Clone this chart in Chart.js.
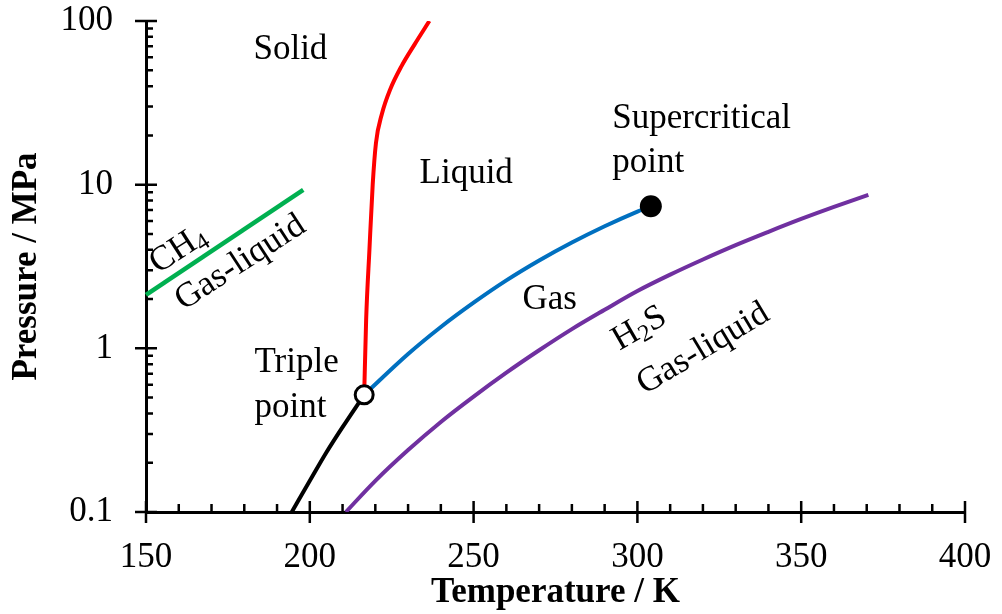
<!DOCTYPE html>
<html>
<head>
<meta charset="utf-8">
<script src="https://cdn.jsdelivr.net/npm/chart.js@4.4.0/dist/chart.umd.min.js"></script>
<style>
  html, body { margin: 0; padding: 0; background: #fff; }
  #wrap { width: 1002px; height: 614px; position: relative; }
</style>
</head>
<body>
<div id="wrap"><canvas id="grafica"></canvas></div>
<script>
// CO2 sólido-gas (sublimación)
const sublimT = [194.5, 200, 205, 210, 216.6];
const sublimP = [0.1, 0.155, 0.23, 0.33, 0.52];

// CO2 sólido-líquido (fusión)
const fusionT = [216.6, 217.2, 218.2, 219.2, 220.2, 222.0, 224.5, 228.0, 232.0, 236.5];
const fusionP = [0.52, 1.5, 4.0, 10, 18, 27, 38, 53, 72, 100];

// CO2 líquido-gas (vaporización)
const vaporT = [216.6, 230, 240, 250, 260, 270, 280, 290, 300, 304.1];
const vaporP = [0.52, 0.923, 1.35, 1.9, 2.6, 3.44, 4.43, 5.57, 6.85, 7.38];

// H2S gas-líquido
const h2sT = [211, 220, 230, 240, 250, 260, 270, 280, 290, 300, 310, 320, 330, 340, 350, 360, 370.5];
const h2sP = [0.1, 0.155, 0.239, 0.355, 0.507, 0.71, 0.973, 1.31, 1.72, 2.24, 2.82, 3.49, 4.27, 5.15, 6.17, 7.31, 8.65];

// CH4 gas-líquido
const ch4T = [150, 198];
const ch4P = [2.12, 9.3];

const triplePoint = [216.6, 0.52];
const criticalPoint = [304.1, 7.38];

const xTicks = [150, 200, 250, 300, 350, 400];
const yTicks = [0.1, 1, 10, 100];
const yTickLabels = ['0.1', '1', '10', '100'];

const FONT = '"Liberation Serif", "Times New Roman", serif';

// textos dentro de la gráfica (posición en unidades de datos)
const etiquetas = [
  { parts: [['Solid']], T: 182.8, p: 58.2 },
  { parts: [['Liquid']], T: 233.5, p: 10.3 },
  { parts: [['Gas']], T: 264.9, p: 1.75 },
  { parts: [['Supercritical']], T: 292.3, p: 22.3 },
  { parts: [['point']], T: 292.3, p: 12.0 },
  { parts: [['Triple']], T: 183.1, p: 0.717 },
  { parts: [['point']], T: 183.1, p: 0.381 },
  { parts: [['CH'], ['4', true]], T: 159.9, p: 4.0, rot: -33 },
  { parts: [['Gas-liquid']], T: 178.8, p: 3.33, rot: -33 },
  { parts: [['H'], ['2', true], ['S']], T: 300.6, p: 1.32, rot: -30 },
  { parts: [['Gas-liquid']], T: 320.1, p: 0.993, rot: -31 }
];

function puntos(xs, ys) {
  return xs.map((x, i) => ({ x: x, y: ys[i] }));
}

const axisTicks = {
  id: 'axisTicks',
  afterDatasetsDraw(chart) {
    const { ctx, scales: { x, y }, chartArea: a } = chart;
    ctx.save();
    ctx.strokeStyle = '#000';
    ctx.lineWidth = 2.5;
    ctx.beginPath();
    xTicks.forEach(v => {
      const px = x.getPixelForValue(v);
      ctx.moveTo(px, a.bottom - 11);
      ctx.lineTo(px, a.bottom + 11);
    });
    for (let v = 160; v < 400; v += 10) {
      if (v % 50 === 0) continue;
      const px = x.getPixelForValue(v);
      ctx.moveTo(px, a.bottom);
      ctx.lineTo(px, a.bottom - 8);
    }
    yTicks.forEach(v => {
      const py = y.getPixelForValue(v);
      ctx.moveTo(a.left - 11, py);
      ctx.lineTo(a.left + 11, py);
    });
    [0.1, 1, 10].forEach(d => {
      for (let k = 2; k <= 9; k++) {
        const py = y.getPixelForValue(d * k);
        ctx.moveTo(a.left, py);
        ctx.lineTo(a.left + 7, py);
      }
    });
    ctx.stroke();
    ctx.restore();
  }
};

const textos = {
  id: 'textos',
  afterDraw(chart) {
    const { ctx, scales: { x, y } } = chart;
    const big = '35px ' + FONT, small = '24px ' + FONT;
    ctx.save();
    ctx.fillStyle = '#000';
    etiquetas.forEach(e => {
      const px = x.getPixelForValue(e.T);
      const py = y.getPixelForValue(e.p);
      let w = 0;
      const ws = e.parts.map(([t, sub]) => {
        ctx.font = sub ? small : big;
        const m = ctx.measureText(t).width;
        w += m;
        return m;
      });
      ctx.save();
      ctx.translate(px, py);
      let cx = 0;
      if (e.rot) {
        ctx.rotate(e.rot * Math.PI / 180);
        ctx.textBaseline = 'middle';
        cx = -w / 2;
      } else {
        ctx.textBaseline = 'alphabetic';
      }
      ctx.textAlign = 'left';
      e.parts.forEach(([t, sub], i) => {
        ctx.font = sub ? small : big;
        ctx.fillText(t, cx, sub ? 8 : 0);
        cx += ws[i];
      });
      ctx.restore();
    });
    ctx.restore();
  }
};

const curva = (label, xs, ys, color, width) => ({
  label: label,
  data: puntos(xs, ys),
  showLine: true, borderColor: color, borderWidth: width,
  pointRadius: 0, cubicInterpolationMode: 'monotone', order: 1
});

const ctx = document.getElementById('grafica').getContext('2d');
const chart = new Chart(ctx, {
  type: 'scatter',
  data: {
    datasets: [
      {
        label: 'Triple point',
        data: [{ x: triplePoint[0], y: triplePoint[1] }],
        pointRadius: 9, pointBorderWidth: 3,
        pointBackgroundColor: '#fff', pointBorderColor: '#000',
        order: 0
      },
      {
        label: 'Supercritical point',
        data: [{ x: criticalPoint[0], y: criticalPoint[1] }],
        pointRadius: 11, pointBorderWidth: 0,
        pointBackgroundColor: '#000', pointBorderColor: '#000',
        order: 0
      },
      curva('Sublimation', sublimT, sublimP, '#000000', 4),
      curva('Fusion', fusionT, fusionP, '#ff0000', 4),
      curva('Vaporization', vaporT, vaporP, '#0070c0', 4),
      curva('H2S', h2sT, h2sP, '#7030a0', 4),
      Object.assign(curva('CH4', ch4T, ch4P, '#00b050', 4.5), { clip: false })
    ]
  },
  options: {
    responsive: true,
    maintainAspectRatio: false,
    animation: false,
    layout: { padding: { top: 21, right: 37, left: 0, bottom: 0 } },
    plugins: { legend: { display: false }, tooltip: { enabled: false } },
    scales: {
      x: {
        type: 'linear', min: 150, max: 400,
        afterBuildTicks: s => { s.ticks = xTicks.map(v => ({ value: v })); },
        afterFit: s => { s.height = 102; s.paddingLeft = 0; s.paddingRight = 0; },
        ticks: { font: { family: FONT, size: 35, lineHeight: 1 }, color: '#000', padding: 28, maxRotation: 0, autoSkip: false },
        grid: { display: false, drawTicks: false },
        border: { color: '#000', width: 3 },
        title: {
          display: true, text: 'Temperature / K', color: '#000',
          font: { family: FONT, size: 35, weight: 'bold', lineHeight: 1.2 },
          padding: { top: 0, bottom: 0 }
        }
      },
      y: {
        type: 'logarithmic', min: 0.1, max: 100,
        afterBuildTicks: s => { s.ticks = yTicks.map(v => ({ value: v })); },
        afterFit: s => { s.width = 146; s.paddingTop = 0; s.paddingBottom = 0; },
        ticks: {
          callback: v => yTickLabels[yTicks.indexOf(v)] ?? '',
          font: { family: FONT, size: 35, lineHeight: 1 }, color: '#000', padding: 33, autoSkip: false
        },
        grid: { display: false, drawTicks: false },
        border: { color: '#000', width: 3 },
        title: {
          display: true, text: 'Pressure / MPa', color: '#000',
          font: { family: FONT, size: 35, weight: 'bold', lineHeight: 1.2 },
          padding: { top: 6, bottom: 0 }
        }
      }
    }
  },
  plugins: [axisTicks, textos]
});
</script>
</body>
</html>
